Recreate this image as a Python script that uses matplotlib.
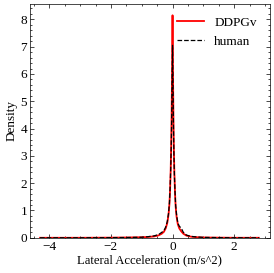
import matplotlib
matplotlib.use('Agg')
import matplotlib.pyplot as plt
from matplotlib.ticker import AutoMinorLocator

# Density curves (lateral acceleration, m/s^2)
x_ddpg = [-4.3, -3.0, -2.0, -1.5, -1.0, -0.8, -0.6, -0.45, -0.35, -0.28, -0.22, -0.17,
          -0.13, -0.1, -0.08, -0.06, -0.045, -0.03, -0.02, -0.01, 0.0, 0.01, 0.02, 0.03,
          0.045, 0.06, 0.08, 0.1, 0.13, 0.17, 0.22, 0.28, 0.35, 0.45, 0.6, 0.8, 1.0,
          1.5, 2.0, 2.8]
y_ddpg = [0.0, 0.0, 0.005, 0.01, 0.02, 0.03, 0.05, 0.09, 0.15, 0.22, 0.35, 0.55,
          0.85, 1.25, 1.75, 2.5, 3.3, 4.5, 5.6, 6.9, 8.15, 6.7, 5.4, 4.3,
          3.1, 2.35, 1.65, 1.15, 0.78, 0.5, 0.34, 0.24, 0.15, 0.08, 0.04, 0.02, 0.01,
          0.005, 0.0, 0.0]

x_human = [-4.3, -3.0, -2.0, -1.5, -1.0, -0.8, -0.6, -0.45, -0.35, -0.28, -0.22, -0.17,
           -0.13, -0.1, -0.08, -0.06, -0.045, -0.03, -0.02, -0.01, 0.0, 0.01, 0.02, 0.03,
           0.045, 0.06, 0.08, 0.1, 0.13, 0.17, 0.22, 0.28, 0.35, 0.45, 0.6, 0.8, 1.0,
           1.5, 2.0, 2.8]
y_human = [0.0, 0.0, 0.005, 0.01, 0.02, 0.04, 0.07, 0.12, 0.2, 0.26, 0.4, 0.6,
           0.9, 1.3, 1.8, 2.5, 3.2, 4.2, 5.2, 6.2, 7.05, 6.1, 5.1, 4.1,
           3.0, 2.3, 1.7, 1.2, 0.85, 0.55, 0.42, 0.36, 0.2, 0.1, 0.05, 0.03, 0.015,
           0.005, 0.0, 0.0]

plt.rcParams['font.family'] = ['Liberation Serif', 'DejaVu Serif']
plt.rcParams['font.size'] = 9.5

fig = plt.figure(figsize=(2.74, 2.73), dpi=100)
ax = fig.add_axes([0.109, 0.129, 0.875, 0.856])

ax.plot(x_ddpg, y_ddpg, color='red', lw=1.3, label='DDPGv')
ax.plot(x_human, y_human, color='black', lw=0.9, ls='--', label='human')

ax.set_xlim(-4.63, 3.15)
ax.set_ylim(0, 8.56)
ax.set_xticks([-4, -2, 0, 2])
ax.set_xticklabels(['\u22124', '\u22122', '0', '2'])
ax.set_yticks(range(0, 9))
ax.xaxis.set_minor_locator(AutoMinorLocator(4))
ax.yaxis.set_minor_locator(AutoMinorLocator(5))
ax.tick_params(which='both', direction='in', top=True, right=True, width=0.5)
ax.tick_params(which='major', length=3, pad=2)
ax.tick_params(which='minor', length=1.5)
for s in ax.spines.values():
    s.set_linewidth(0.5)

ax.set_xlabel('Lateral Acceleration (m/s^2)', fontsize=9.1, labelpad=1.5)
ax.set_ylabel('Density', labelpad=2)
ax.legend(loc='upper right', frameon=False, handlelength=2.0, fontsize=9.5,
          bbox_to_anchor=(0.985, 0.985), borderaxespad=0.3)

fig.savefig('out.png', dpi=100)
